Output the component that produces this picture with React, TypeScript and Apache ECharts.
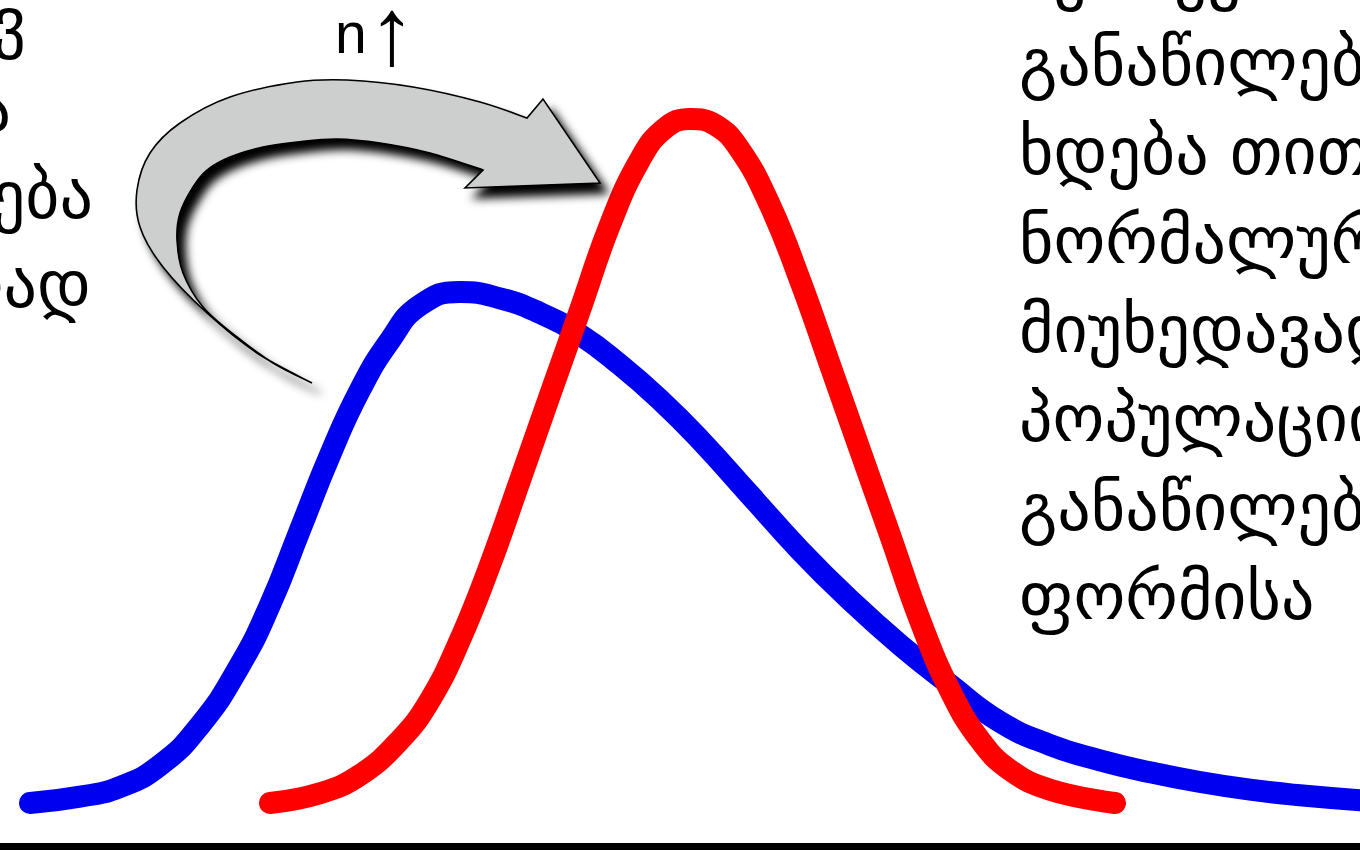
import React, { useEffect, useRef } from "react";
import * as echarts from "echarts";

// Skewed population distribution (blue)
const populationX = [3, 8, 12, 16, 20, 24, 27, 30, 33, 36, 39, 42, 46, 50, 54, 58, 62, 66, 70, 75, 80, 85, 90, 95, 100, 105, 110, 115, 120, 125, 130, 136];
const populationY = [0, 0.9, 2.3, 5.4, 11.1, 19.7, 28.3, 39, 49.7, 59, 66.1, 71.1, 73, 72.1, 70, 66.9, 62.6, 57.6, 51.9, 44, 36.1, 29, 22.6, 16.9, 11.6, 8.3, 6.1, 4.4, 3, 1.9, 1.1, 0.4];

// Sampling distribution of the mean for larger n (red)
const samplingX = [27, 32, 36, 40, 43, 46, 49, 52, 55, 58, 61, 64, 66.5, 69, 71.5, 74, 77, 80, 83, 86, 89, 92, 95, 98, 101, 105, 111.5];
const samplingY = [0, 1.4, 4, 9, 14.7, 23.3, 34, 46.1, 58.3, 70.4, 82.6, 91.9, 96.4, 97.7, 96.9, 93.3, 85.4, 74.7, 62.6, 50.4, 38.3, 26.1, 16.1, 9, 4.7, 1.9, 0];

// Text blocks
const leftLines = ["ვ", "შერჩევა", "იზრდება", "ერთად"];
const rightLines = [
  "შერჩევითი საშუალოების",
  "განაწილება",
  "ხდება თითქმის",
  "ნორმალური",
  "მიუხედავად",
  "პოპულაციის",
  "განაწილების",
  "ფორმისა",
];
const labelN = "n";
const labelUp = "↑";

// Outline of the curved grey arrow
const arrowOuter: number[][] = [
  [312, 383], [257, 353], [207, 313], [163, 267], [140, 227], [137, 190], [150, 153],
  [180, 123], [230, 97], [297, 82], [347, 80], [413, 87], [480, 102], [527, 118],
];
const arrowHead: number[][] = [[543, 99], [600, 183], [465, 188], [483, 170]];
const arrowInner: number[][] = [
  [483, 170], [430, 153], [380, 143], [337, 139], [297, 142], [263, 147], [230, 157],
  [207, 170], [193, 187], [180, 213], [177, 240], [183, 273], [203, 307], [237, 337],
  [273, 363], [312, 383],
];

function smoothSegment(pts: number[][]): string {
  let d = "";
  for (let i = 0; i < pts.length - 1; i++) {
    const p0 = pts[i - 1] || pts[i];
    const p1 = pts[i];
    const p2 = pts[i + 1];
    const p3 = pts[i + 2] || p2;
    const c1x = p1[0] + (p2[0] - p0[0]) / 6;
    const c1y = p1[1] + (p2[1] - p0[1]) / 6;
    const c2x = p2[0] - (p3[0] - p1[0]) / 6;
    const c2y = p2[1] - (p3[1] - p1[1]) / 6;
    d += ` C${c1x.toFixed(1)},${c1y.toFixed(1)} ${c2x.toFixed(1)},${c2y.toFixed(1)} ${p2[0]},${p2[1]}`;
  }
  return d;
}

function arrowPath(): string {
  let d = `M${arrowOuter[0][0]},${arrowOuter[0][1]}`;
  d += smoothSegment(arrowOuter);
  arrowHead.forEach((p) => {
    d += ` L${p[0]},${p[1]}`;
  });
  d += smoothSegment(arrowInner);
  d += " Z";
  return d;
}

let shapeRegistered = false;

export default function App() {
  const ref = useRef<HTMLDivElement>(null);

  useEffect(() => {
    if (!ref.current) return;
    if (!shapeRegistered) {
      echarts.graphic.registerShape("curvedArrow", echarts.graphic.extendPath(arrowPath(), {}));
      shapeRegistered = true;
    }
    const chart = echarts.init(ref.current, undefined, { renderer: "svg" });

    const geoSize = 66;
    const geoFont = `${geoSize}px "DejaVu Sans"`;
    const centralShift = 0.346 * geoSize;
    const leftEnds = [26, 11, 93, 91];
    const leftBase = [44, 131, 218, 307];
    const rightBase = [-4, 85, 174, 263, 352, 441, 530, 619];

    const textEls: any[] = [];
    leftLines.forEach((t, i) => {
      textEls.push({
        type: "text",
        z: 50,
        style: {
          text: t,
          x: leftEnds[i],
          y: leftBase[i] - centralShift,
          font: geoFont,
          fill: "#000",
          align: "right",
          textAlign: "right",
          verticalAlign: "middle",
          textVerticalAlign: "middle",
        },
      });
    });
    rightLines.forEach((t, i) => {
      textEls.push({
        type: "text",
        z: 50,
        style: {
          text: t,
          x: 1019,
          y: rightBase[i] - centralShift,
          font: geoFont,
          fill: "#000",
          align: "left",
          textAlign: "left",
          verticalAlign: "middle",
          textVerticalAlign: "middle",
        },
      });
    });

    chart.setOption({
      animation: false,
      backgroundColor: "#ffffff",
      grid: { left: 0, right: 0, top: 103, bottom: 47 },
      xAxis: {
        type: "value",
        min: 0,
        max: 136,
        axisLine: { show: true, onZero: false, lineStyle: { color: "#000", width: 7 } },
        offset: 43,
        axisTick: { show: false },
        axisLabel: { show: false },
        splitLine: { show: false },
      },
      yAxis: {
        type: "value",
        min: 0,
        max: 100,
        show: false,
        splitLine: { show: false },
      },
      series: [
        {
          type: "line",
          data: populationX.map((x, i) => [x, populationY[i]]),
          smooth: 0.5,
          showSymbol: false,
          clip: false,
          lineStyle: { color: "#0000f0", width: 22, cap: "round", join: "round" },
          z: 2,
        },
        {
          type: "line",
          data: samplingX.map((x, i) => [x, samplingY[i]]),
          smooth: 0.45,
          showSymbol: false,
          clip: false,
          lineStyle: { color: "#ff0000", width: 22, cap: "round", join: "round" },
          z: 3,
        },
      ],
      graphic: [
        {
          type: "curvedArrow",
          x: 0,
          y: 0,
          z: 100,
          style: {
            fill: "#cdcfcf",
            stroke: "#000",
            lineWidth: 1.6,
            shadowBlur: 10,
            shadowColor: "rgba(0,0,0,1)",
            shadowOffsetX: 8,
            shadowOffsetY: 10,
          },
        },
        {
          type: "text",
          z: 100,
          style: {
            text: labelN,
            x: 335,
            y: 53 - 0.3465 * 57,
            font: '57px "Liberation Sans"',
            fill: "#000",
            align: "left",
            textAlign: "left",
            verticalAlign: "middle",
            textVerticalAlign: "middle",
          },
        },
        {
          type: "text",
          z: 100,
          style: {
            text: labelUp,
            x: 368,
            y: 31,
            font: '95px "Liberation Sans"',
            fill: "#000",
            align: "left",
            textAlign: "left",
            verticalAlign: "middle",
            textVerticalAlign: "middle",
          },
        },
        ...textEls,
      ],
    });

    return () => {
      chart.dispose();
    };
  }, []);

  return (
    <div
      ref={ref}
      style={{ position: "fixed", left: 0, top: 0, width: 1360, height: 850, background: "#fff" }}
    />
  );
}
